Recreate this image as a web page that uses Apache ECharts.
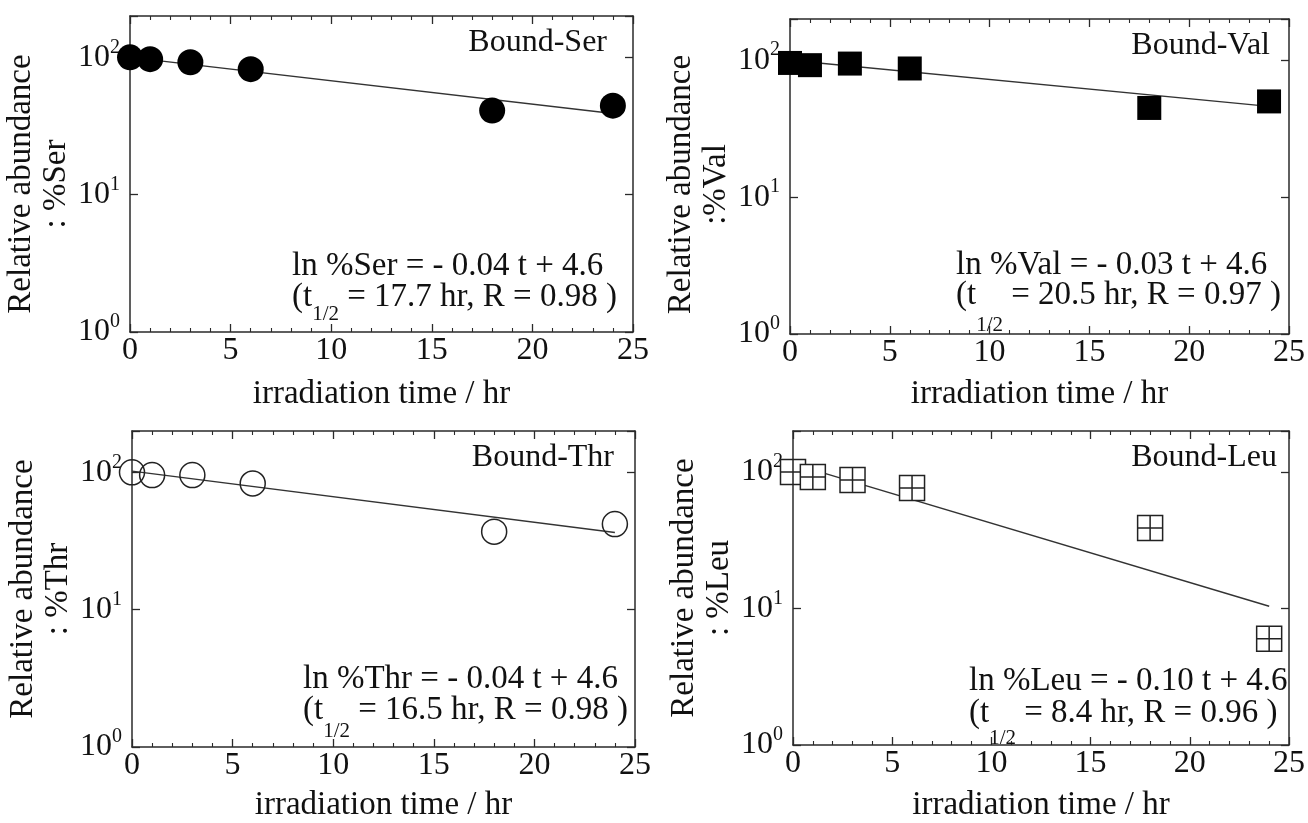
<!DOCTYPE html>
<html>
<head>
<meta charset="utf-8">
<script src="https://cdn.jsdelivr.net/npm/echarts@6/dist/echarts.min.js"></script>
<style>
html,body{margin:0;padding:0;background:#fff;}
#chart{width:1308px;height:823px;}
</style>
</head>
<body>
<div id="chart"></div>
<script>
// ---- data ----
const timeHr = [0, 1, 3, 6, 18, 24];
const serValues = [100, 97, 92, 82, 41, 44.5];
const valValues = [95.5, 92, 94.5, 87, 44.8, 50];
const thrValues = [100, 95.5, 95.5, 83, 37, 42];
const leuValues = [100, 92, 87.5, 76.5, 39, 6];
const fitTime = [0, 24];
const serFit = [100, 39];
const valFit = [100, 46];
const thrFit = [102, 36.5];
const leuFit = [115, 10.4];
const xTickValues = [0, 5, 10, 15, 20, 25];
const yDecades = [1, 10, 100];
const panelNames = ['Bound-Ser', 'Bound-Val', 'Bound-Thr', 'Bound-Leu'];
const yTitleSecond = [': %Ser', ':%Val', ': %Thr', ': %Leu'];
const fitEquations = ['ln %Ser = - 0.04 t + 4.6', 'ln %Val = - 0.03 t + 4.6', 'ln %Thr = - 0.04 t + 4.6', 'ln %Leu = - 0.10 t + 4.6'];
const halfLives = ['17.7', '20.5', '16.5', '8.4'];
const rValues = ['0.98', '0.97', '0.98', '0.96'];
const xTitle = 'irradiation time / hr';

// ---- layout / styles ----
const FONT = '"Liberation Serif", "Times New Roman", serif';
const INK = '#111';
const LINE = '#2a2a2a';
const grids = [
  {left: 130, top: 16, width: 503, height: 316},
  {left: 790, top: 19, width: 502, height: 315},
  {left: 132, top: 431, width: 503, height: 316},
  {left: 793, top: 431, width: 499, height: 316}
];
const yTitleShift = [20, 16, 0, 0];
const yNameGap = [55, 54, 52, 52];
const xNameGap = [46, 44, 42, 44];
const nameRight = [607, 1270, 614, 1277];
const nameCenterY = [43, 46, 458, 458];
const eqLeft = [292, 956, 303, 969];
const eqLine1Y = [266, 265, 679, 681];
const eqLine2Y = [297, 295, 710, 713];
const subY = [314, 325, 731, 738];

const panelValues = [serValues, valValues, thrValues, leuValues];
const panelFits = [serFit, valFit, thrFit, leuFit];
const markerSymbols = ['circle', 'rect', 'circle', 'path://M0 0L10 0L10 10L0 10Z M5 0L5 10 M0 5L10 5'];
const markerSizes = [26, 24, 25, 25];
const markerStyles = [
  {color: '#000', opacity: 1},
  {color: '#000', opacity: 1},
  {color: 'rgba(0,0,0,0)', borderColor: '#222', borderWidth: 1.5, opacity: 1},
  {color: '#fff', borderColor: '#222', borderWidth: 1.5, opacity: 1}
];

function decadeLabel(v) {
  const e = Math.round(Math.log10(v));
  if (Math.abs(v - Math.pow(10, e)) > 1e-6 * v) return '';
  if (yDecades.indexOf(Math.pow(10, e)) < 0) return '';
  return '{b|10}{s|' + e + '}';
}

const xAxes = [], yAxes = [], series = [], graphics = [];
grids.forEach((g, i) => {
  const tickBase = {
    show: true, inside: true, length: 8,
    lineStyle: {color: LINE, width: 1.3}
  };
  const minorBase = {show: true, splitNumber: 5, length: 4, lineStyle: {color: LINE, width: 1.1}};
  xAxes.push({
    type: 'value', gridIndex: i, position: 'bottom', min: 0, max: 25, interval: 5,
    axisLine: {show: true, onZero: false, lineStyle: {color: LINE, width: 1.5}},
    axisTick: tickBase, minorTick: minorBase, splitLine: {show: false},
    axisLabel: {
      margin: 3, color: INK, fontFamily: FONT, fontSize: 32,
      formatter: v => (xTickValues.indexOf(v) >= 0 ? String(v) : '')
    },
    name: xTitle, nameLocation: 'middle', nameGap: xNameGap[i],
    nameTextStyle: {color: INK, fontFamily: FONT, fontSize: 33}
  });
  xAxes.push({
    type: 'value', gridIndex: i, position: 'top', min: 0, max: 25, interval: 5,
    axisLine: {show: true, onZero: false, lineStyle: {color: LINE, width: 1.5}},
    axisTick: tickBase, minorTick: minorBase, splitLine: {show: false},
    axisLabel: {show: false}
  });
  yAxes.push({
    type: 'log', logBase: 10, gridIndex: i, position: 'left', min: 1, max: 200,
    axisLine: {show: true, onZero: false, lineStyle: {color: LINE, width: 1.5}},
    axisTick: tickBase, minorTick: {show: false}, splitLine: {show: false},
    axisLabel: {
      margin: 10, formatter: decadeLabel,
      rich: {
        b: {fontFamily: FONT, fontSize: 32, color: INK, lineHeight: 40},
        s: {fontFamily: FONT, fontSize: 20, color: INK, verticalAlign: 'top', lineHeight: 20}
      }
    },
    name: 'Relative abundance\n' + yTitleSecond[i], nameLocation: 'middle', nameRotate: 90,
    nameGap: yNameGap[i],
    nameTextStyle: {color: INK, fontFamily: FONT, fontSize: 33, lineHeight: 35, padding: [0, yTitleShift[i], 0, 0]}
  });
  yAxes.push({
    type: 'log', logBase: 10, gridIndex: i, position: 'right', min: 1, max: 200,
    axisLine: {show: true, onZero: false, lineStyle: {color: LINE, width: 1.5}},
    axisTick: tickBase, minorTick: {show: false}, splitLine: {show: false},
    axisLabel: {show: false}
  });
  series.push({
    type: 'line', xAxisIndex: 2 * i, yAxisIndex: 2 * i, showSymbol: false, silent: true,
    data: fitTime.map((t, k) => [t, panelFits[i][k]]),
    lineStyle: {color: '#333', width: 1.4}, z: 2
  });
  series.push({
    type: 'scatter', xAxisIndex: 2 * i, yAxisIndex: 2 * i,
    symbol: markerSymbols[i], symbolSize: markerSizes[i],
    data: timeHr.map((t, k) => [t, panelValues[i][k]]),
    itemStyle: markerStyles[i], clip: false, z: 3
  });
  // panel label
  graphics.push({
    type: 'text', z: 10,
    style: {
      x: nameRight[i], y: nameCenterY[i], text: panelNames[i],
      fill: INK, font: '32px ' + FONT,
      align: 'right', verticalAlign: 'middle', textAlign: 'right', textVerticalAlign: 'middle'
    }
  });
  // equation line 1
  graphics.push({
    type: 'text', z: 10,
    style: {
      x: eqLeft[i], y: eqLine1Y[i], text: fitEquations[i],
      fill: INK, font: '33px ' + FONT,
      align: 'left', verticalAlign: 'middle', textAlign: 'left', textVerticalAlign: 'middle'
    }
  });
  // equation line 2 with subscript
  const off = subY[i] - eqLine2Y[i];
  graphics.push({
    type: 'text', z: 10,
    style: {
      x: eqLeft[i], y: eqLine2Y[i] - 16.5,
      text: '{m|(t}{sub|1/2}{m| = ' + halfLives[i] + ' hr, R = ' + rValues[i] + ' )}',
      align: 'left', verticalAlign: 'top', textAlign: 'left', textVerticalAlign: 'top',
      rich: {
        m: {fontFamily: FONT, fontSize: 33, fill: INK, color: INK, verticalAlign: 'top', lineHeight: 33},
        sub: {fontFamily: FONT, fontSize: 21, fill: INK, color: INK, verticalAlign: 'middle', lineHeight: 2 * (16.5 + off)}
      }
    }
  });
});

const chart = echarts.init(document.getElementById('chart'), null, {renderer: 'canvas'});
chart.setOption({
  animation: false,
  backgroundColor: '#fff',
  grid: grids.map(g => Object.assign({containLabel: false}, g)),
  xAxis: xAxes,
  yAxis: yAxes,
  series: series,
  graphic: graphics
});
</script>
</body>
</html>
